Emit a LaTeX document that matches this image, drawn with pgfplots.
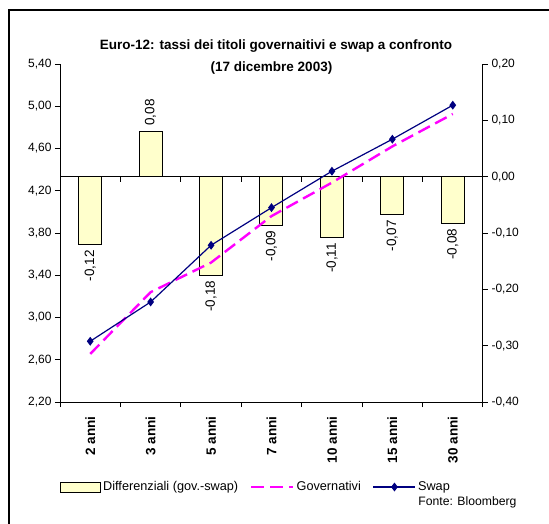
\documentclass[border=0pt]{standalone}
\usepackage{fontspec}
\setmainfont{Liberation Sans}
\usepackage{pgfplots}
\pgfplotsset{compat=1.18}
\usepackage{pgfplotstable}
\definecolor{barfill}{HTML}{FFFFCC}
\definecolor{swapblue}{HTML}{000080}
\definecolor{govmag}{HTML}{FF00FF}

\pgfplotstableread{
x val lab
0 -0.121 -0,12
2 -0.175 -0,18
3 -0.086 -0,09
4 -0.108 -0,11
5 -0.068 -0,07
6 -0.083 -0,08
}\diffneg

\pgfplotstableread{
x val lab
1 0.081 0,08
}\diffpos

\pgfplotstableread{
x gov swap
0 2.655 2.775
1 3.240 3.147
2 3.520 3.684
3 3.960 4.040
4 4.277 4.385
5 4.620 4.688
6 4.927 5.010
}\ratedata

\pgfplotsset{
  base/.style={
    at={(60pt,121pt)}, anchor=south west, scale only axis,
    width=423pt, height=338pt, xmin=-0.5, xmax=6.5,
    axis line style={line width=1pt},
    tick style={line width=1pt, black},
    major tick length=5pt, tick align=outside,
    ticklabel style={font=\fontsize{12}{12}\selectfont},
    /pgf/number format/.cd, fixed, fixed zerofill, precision=2, use comma, assume math mode=true
  },
  barlegend/.style={legend image code/.code={\draw[##1] (0pt,-5pt) rectangle (40pt,5pt);}},
  linelegend/.style={legend image code/.code={\draw[mark repeat=2,mark phase=2,##1] plot coordinates {(0pt,0pt) (21pt,0pt) (42pt,0pt)};}}
}

\begin{document}
\begin{tikzpicture}
\useasboundingbox (0,0) rectangle (549pt,523pt);
\clip (0,0) rectangle (549pt,523pt);
\draw[line width=1.3pt] (9pt,-10pt) -- (9pt,513pt) -- (560pt,513pt);

% bars: secondary (right) axis
\begin{axis}[base,
  ymin=-0.4, ymax=0.2,
  ytick={-0.4,-0.3,-0.2,-0.1,0,0.1,0.2},
  axis y line*=right, ytick pos=right, yticklabel pos=right,
  axis x line=none, xtick=\empty,
  ybar, bar width=23pt,
  clip=false]
\addplot[fill=barfill, draw=black, line width=1pt, bar shift=0pt,
  nodes near coords, point meta=explicit symbolic,
  every node near coord/.append style={rotate=90, anchor=east, inner sep=5pt, font=\fontsize{13.5}{14}\selectfont, black}]
  table[x=x, y=val, meta=lab] {\diffneg};
\addplot[fill=barfill, draw=black, line width=1pt, bar shift=0pt,
  nodes near coords, point meta=explicit symbolic,
  every node near coord/.append style={rotate=90, anchor=west, inner sep=5pt, font=\fontsize{13.5}{14}\selectfont, black}]
  table[x=x, y=val, meta=lab] {\diffpos};
\draw[line width=1pt] (axis cs:-0.5,0) -- (axis cs:6.5,0);
\pgfplotsinvokeforeach{0.5,1.5,2.5,3.5,4.5,5.5}{\draw[line width=1pt] (axis cs:#1,0) -- ++(0pt,-5pt);}
\end{axis}

% lines: primary (left) axis
\begin{axis}[base,
  ymin=2.2, ymax=5.4,
  ytick={2.2,2.6,3.0,3.4,3.8,4.2,4.6,5.0,5.4},
  axis y line*=left, ytick pos=left, yticklabel pos=left,
  axis x line*=bottom, xtick pos=bottom,
  xtick={-0.5,0.5,1.5,2.5,3.5,4.5,5.5,6.5},
  x tick label as interval,
  xticklabels={2 anni,3 anni,5 anni,7 anni,10 anni,15 anni,30 anni},
  xticklabel shift=6pt,
  xticklabel style={rotate=90, anchor=east, font=\fontsize{13.5}{14}\selectfont\bfseries},
  legend columns=3,
  legend cell align=left,
  legend style={at={(axis description cs:0,-0.2515)}, anchor=west, draw=none, fill=none, inner sep=0pt,
    font=\fontsize{12.7}{14}\selectfont,
    /tikz/every even column/.append style={column sep=10pt}},
  linelegend
  ]
\addlegendimage{draw=black, fill=barfill, line width=1pt, barlegend}
\addlegendentry{Differenziali (gov.-swap)}
\addplot[govmag, line width=2.4pt, dash pattern=on 13pt off 6pt] table[x=x, y=gov] {\ratedata};
\addlegendentry{Governativi}
\addplot[swapblue, line width=1.2pt, mark=diamond*, mark size=3.5pt, mark options={solid, fill=swapblue}] table[x=x, y=swap] {\ratedata};
\addlegendentry{Swap}
\end{axis}

\node[font=\fontsize{13.5}{16}\selectfont\bfseries] at (276pt,477pt) {Euro-12: tassi dei titoli governaitivi e swap a confronto};
\node[font=\fontsize{13.5}{16}\selectfont\bfseries] at (271.5pt,455pt) {(17 dicembre 2003)};
\node[anchor=east, font=\fontsize{12.2}{14}\selectfont] at (520pt,21pt) {Fonte: Bloomberg};
\end{tikzpicture}
\end{document}
